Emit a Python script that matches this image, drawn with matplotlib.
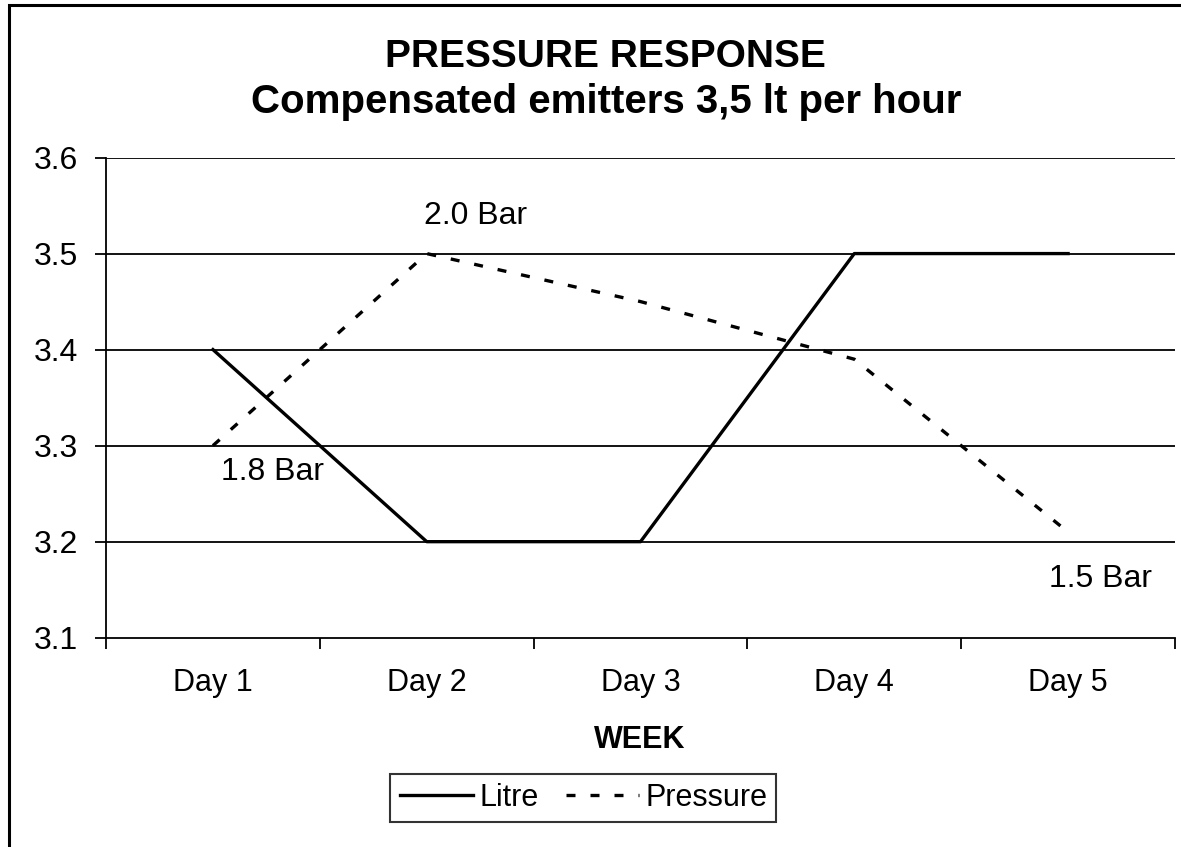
import numpy as np
import matplotlib
matplotlib.use("Agg")
import matplotlib.pyplot as plt
from matplotlib.patches import Rectangle

plt.rcParams["font.family"] = ["Liberation Sans", "DejaVu Sans"]

days = ["Day 1", "Day 2", "Day 3", "Day 4", "Day 5"]
litre = [3.4, 3.2, 3.2, 3.5, 3.5]
pressure = [3.3, 3.5, 3.45, 3.39, 3.21]
pressure_labels = {0: "1.8 Bar", 1: "2.0 Bar", 4: "1.5 Bar"}
label_offsets = {0: (43, -19), 1: (35, 27), 4: (23, -34)}
yticks = [3.1, 3.2, 3.3, 3.4, 3.5, 3.6]

fig = plt.figure(figsize=(11.81, 8.47), dpi=100)
ax = fig.add_axes([0.0898, 0.2471, 0.9051, 0.5669])

x = np.arange(len(days))
lw = 2.4
dash = (9 * 0.72 / lw, 15 * 0.72 / lw)

# horizontal gridlines like the Excel chart
for y in yticks[1:]:
    ax.axhline(y, color="black", lw=1.3, zorder=1)

ax.plot(x, litre, color="black", lw=lw, label="Litre", zorder=3)
ax.plot(x, pressure, color="black", lw=lw, linestyle=(0, dash),
        label="Pressure", zorder=3)

for i, txt in pressure_labels.items():
    ax.annotate(txt, (x[i], pressure[i]), xytext=label_offsets[i],
                textcoords="offset points", ha="center", va="center",
                fontsize=23)

ax.set_xlim(-0.5, len(days) - 0.5)
ax.set_ylim(3.1, 3.6)
ax.set_yticks(yticks)
ax.set_yticklabels([f"{v:.1f}" for v in yticks])
ax.set_xticks(x)
ax.set_xticklabels(days)
ax.set_xticks(np.arange(-0.5, len(days), 1), minor=True)
ax.tick_params(axis="x", which="major", length=0, pad=22, labelsize=22)
ax.tick_params(axis="x", which="minor", length=8, width=1.3, direction="out")
ax.tick_params(axis="y", length=8, width=1.3, pad=12, labelsize=23)

for side in ["top", "right"]:
    ax.spines[side].set_visible(False)
for side in ["left", "bottom"]:
    ax.spines[side].set_linewidth(1.3)

fig.text(0.513, 0.933, "PRESSURE RESPONSE", ha="center", va="center",
         fontsize=28, fontweight="bold")
fig.text(0.513, 0.880, "Compensated emitters 3,5 lt per hour", ha="center",
         va="center", fontsize=29, fontweight="bold")
fig.text(0.542, 0.126, "WEEK", ha="center", va="center", fontsize=22,
         fontweight="bold")

leg = fig.legend(loc="center", bbox_to_anchor=(0.494, 0.058), ncol=2,
                 fontsize=22, frameon=True, fancybox=False, handlelength=2.4,
                 handletextpad=0.2, columnspacing=0.9, borderpad=0.3)
leg.get_frame().set_edgecolor("black")
leg.get_frame().set_linewidth(1.5)

# outer chart border (right and bottom edges fall outside the image)
fig.patches.append(Rectangle((9 / 1181, -0.05), 1.2, 1 - 5 / 847 + 0.05,
                             transform=fig.transFigure, fill=False,
                             edgecolor="black", lw=2.2))

fig.savefig("out.png", dpi=100)
